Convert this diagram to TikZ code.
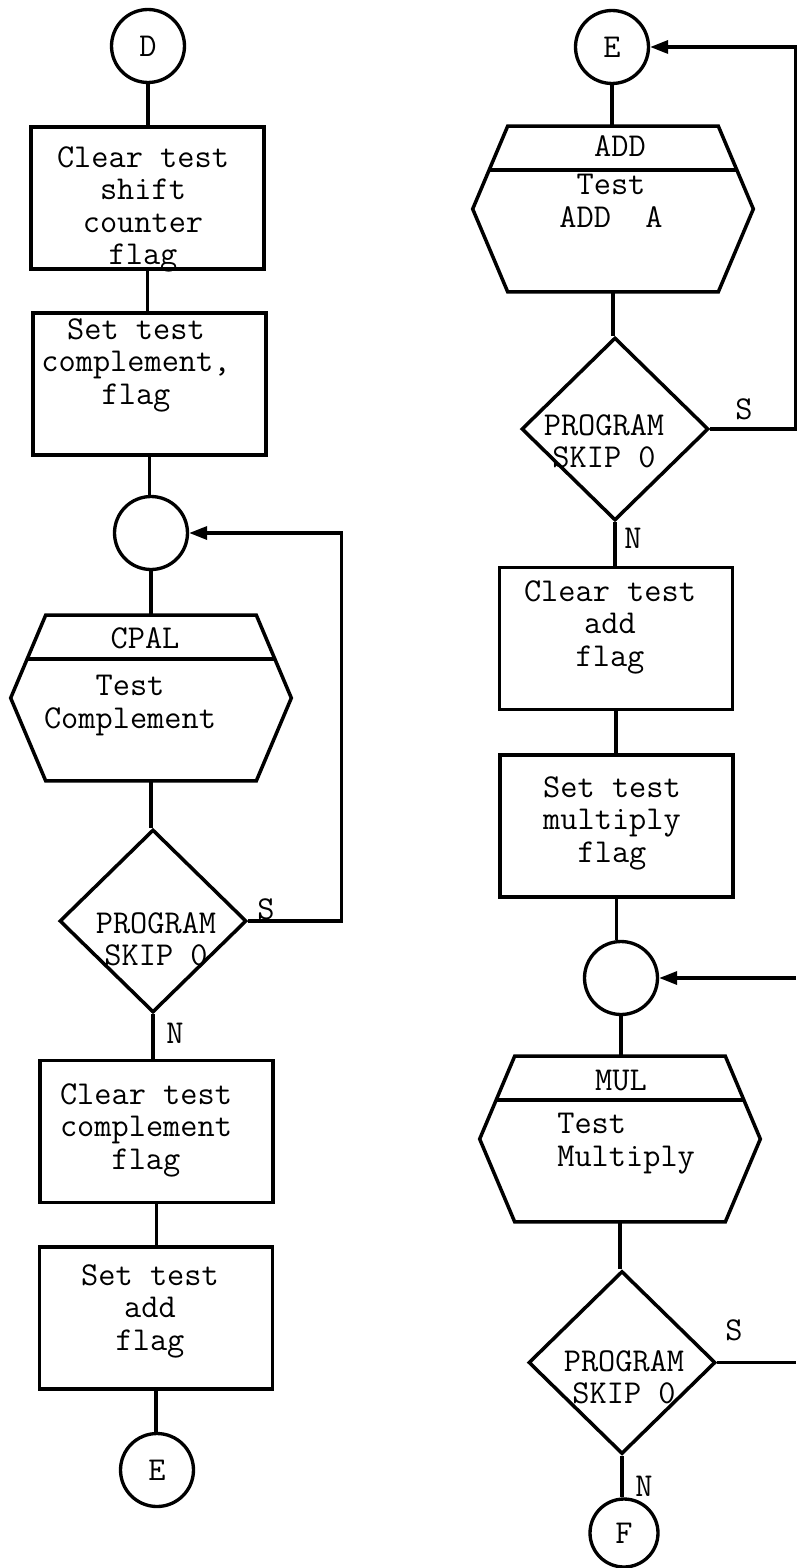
\documentclass[tikz,border=0pt]{standalone}
\usepackage{fontspec}
\usepackage{tikz}
\usetikzlibrary{arrows.meta, shapes.geometric, calc}
\tikzstyle{flowline}=[line width=1.9pt,color=black]
\tikzstyle{arr}=[flowline,-{Triangle[length=0.36cm,width=0.26cm]}]
\tikzstyle{flagbox}=[rectangle,draw,line width=2.1pt,minimum width=4.66cm,minimum height=2.84cm,inner sep=0pt]
\tikzstyle{jumpnode}=[circle,draw,line width=1.9pt,minimum size=1.46cm,inner sep=0pt,font=\ttfamily\fontsize{19}{19}\selectfont]
\tikzstyle{skipbox}=[diamond,draw,line width=2pt,aspect=1,minimum width=3.74cm,minimum height=3.66cm,inner sep=0pt]
\tikzstyle{hexbase}=[rectangle,minimum width=5.6cm,minimum height=3.3cm,inner sep=0pt]
\tikzstyle{boxtext}=[inner sep=0pt,anchor=north,align=center,font=\ttfamily\fontsize{19}{18.5}\selectfont]
\tikzstyle{tagtext}=[inner sep=0pt,font=\ttfamily\fontsize{19}{18.5}\selectfont]

\begin{document}
\begin{tikzpicture}[x=0.02cm, y=-0.02cm]
  \fill[white] (0,0) rectangle (796,1568);
  \useasboundingbox (0,0) rectangle (796,1568);
  % left column
  \node[jumpnode] (cD) at (148,46) {D};
  \node[flagbox] (b1) at (147.5,198) {};
  \node[flagbox] (b2) at (149.5,384) {};
  \node[jumpnode] (cA) at (151,533) {};
  \node[hexbase] (h1) at (151,698) {};
  \node[skipbox] (d1) at (153,921) {};
  \node[flagbox] (b3) at (156.5,1131.5) {};
  \node[flagbox] (b4) at (156,1318) {};
  \node[jumpnode] (cE) at (157,1470) {E};
  % right column
  \node[jumpnode] (cE2) at (612,47) {E};
  \node[hexbase] (h2) at (613,209) {};
  \node[skipbox] (d2) at (615,429) {};
  \node[flagbox] (b5) at (616,638.5) {};
  \node[flagbox] (b6) at (616.5,826) {};
  \node[jumpnode] (cB) at (621,978) {};
  \node[hexbase] (h3) at (620,1139) {};
  \node[skipbox] (d3) at (622,1362.5) {};
  \node[jumpnode,minimum size=1.36cm] (cF) at (624,1533) {F};
  \coordinate (out1) at (796,1362.5);
  \coordinate (in1) at (796,978);

  % hexagon outlines with their header line
  \foreach \h in {h1,h2,h3} {
    \draw[flowline,line width=2pt] ([xshift=0.7cm]\h.north west) -- ([xshift=-0.7cm]\h.north east) -- (\h.east)
      -- ([xshift=-0.7cm]\h.south east) -- ([xshift=0.7cm]\h.south west) -- (\h.west) -- cycle;
    \draw[flowline] ($([xshift=0.7cm]\h.north west)!0.53!(\h.west)$) -- ($([xshift=-0.7cm]\h.north east)!0.53!(\h.east)$);
  }

  % texts
  \node[boxtext] (t1) at (143,146) {Clear test\\shift\\counter\\flag};
  \node[boxtext] (t2) at (136,318) {Set test\\complement,\\flag};
  \node[tagtext] (p1) at (145,638) {CPAL};
  \node[boxtext] (q1) at (130,675) {Test\\Complement};
  \node[boxtext] (s1) at (156,912) {PROGRAM\\SKIP 0};
  \node[boxtext] (t3) at (146,1083) {Clear test\\complement\\flag};
  \node[boxtext] (t4) at (150,1264) {Set test\\add\\flag};
  \node[tagtext] (p2) at (620,146) {ADD};
  \node[boxtext] (q2) at (611,174) {Test\\ADD\ \ A};
  \node[boxtext] (s2) at (604,414) {PROGRAM\\SKIP 0};
  \node[boxtext] (t5) at (610,580) {Clear test\\add\\flag};
  \node[boxtext] (t6) at (612,776) {Set test\\multiply\\flag};
  \node[tagtext] (p3) at (621,1080) {MUL};
  \node[boxtext,anchor=north west,align=left] (q3) at (557,1113) {Test\\Multiply};
  \node[boxtext] (s3) at (624,1350) {PROGRAM\\SKIP 0};
  \node[tagtext] (sA) at (266,909) {S};
  \node[tagtext] (nA) at (175,1033) {N};
  \node[tagtext] (sB) at (744,409) {S};
  \node[tagtext] (nB) at (633,538) {N};
  \node[tagtext] (sC) at (734,1330) {S};
  \node[tagtext] (nC) at (644,1486) {N};

  % connectors
  \foreach \a/\b in {cD/b1,b1/b2,b2/cA,cA/h1,h1/d1,d1/b3,b3/b4,b4/cE,cE2/h2,h2/d2,d2/b5,b5/b6,b6/cB,cB/h3,h3/d3,d3/cF}
    \draw[flowline] (\a.south) -- (\a.south |- \b.north);
  \draw[arr] (d1.east) -- ++(93,0) |- (cA.east);
  \draw[arr] (d2.east) -- ++(85,0) |- (cE2.east);
  \draw[flowline] (d3.east) -- (out1);
  \draw[arr] (in1) -- (cB.east);
\end{tikzpicture}
\end{document}
